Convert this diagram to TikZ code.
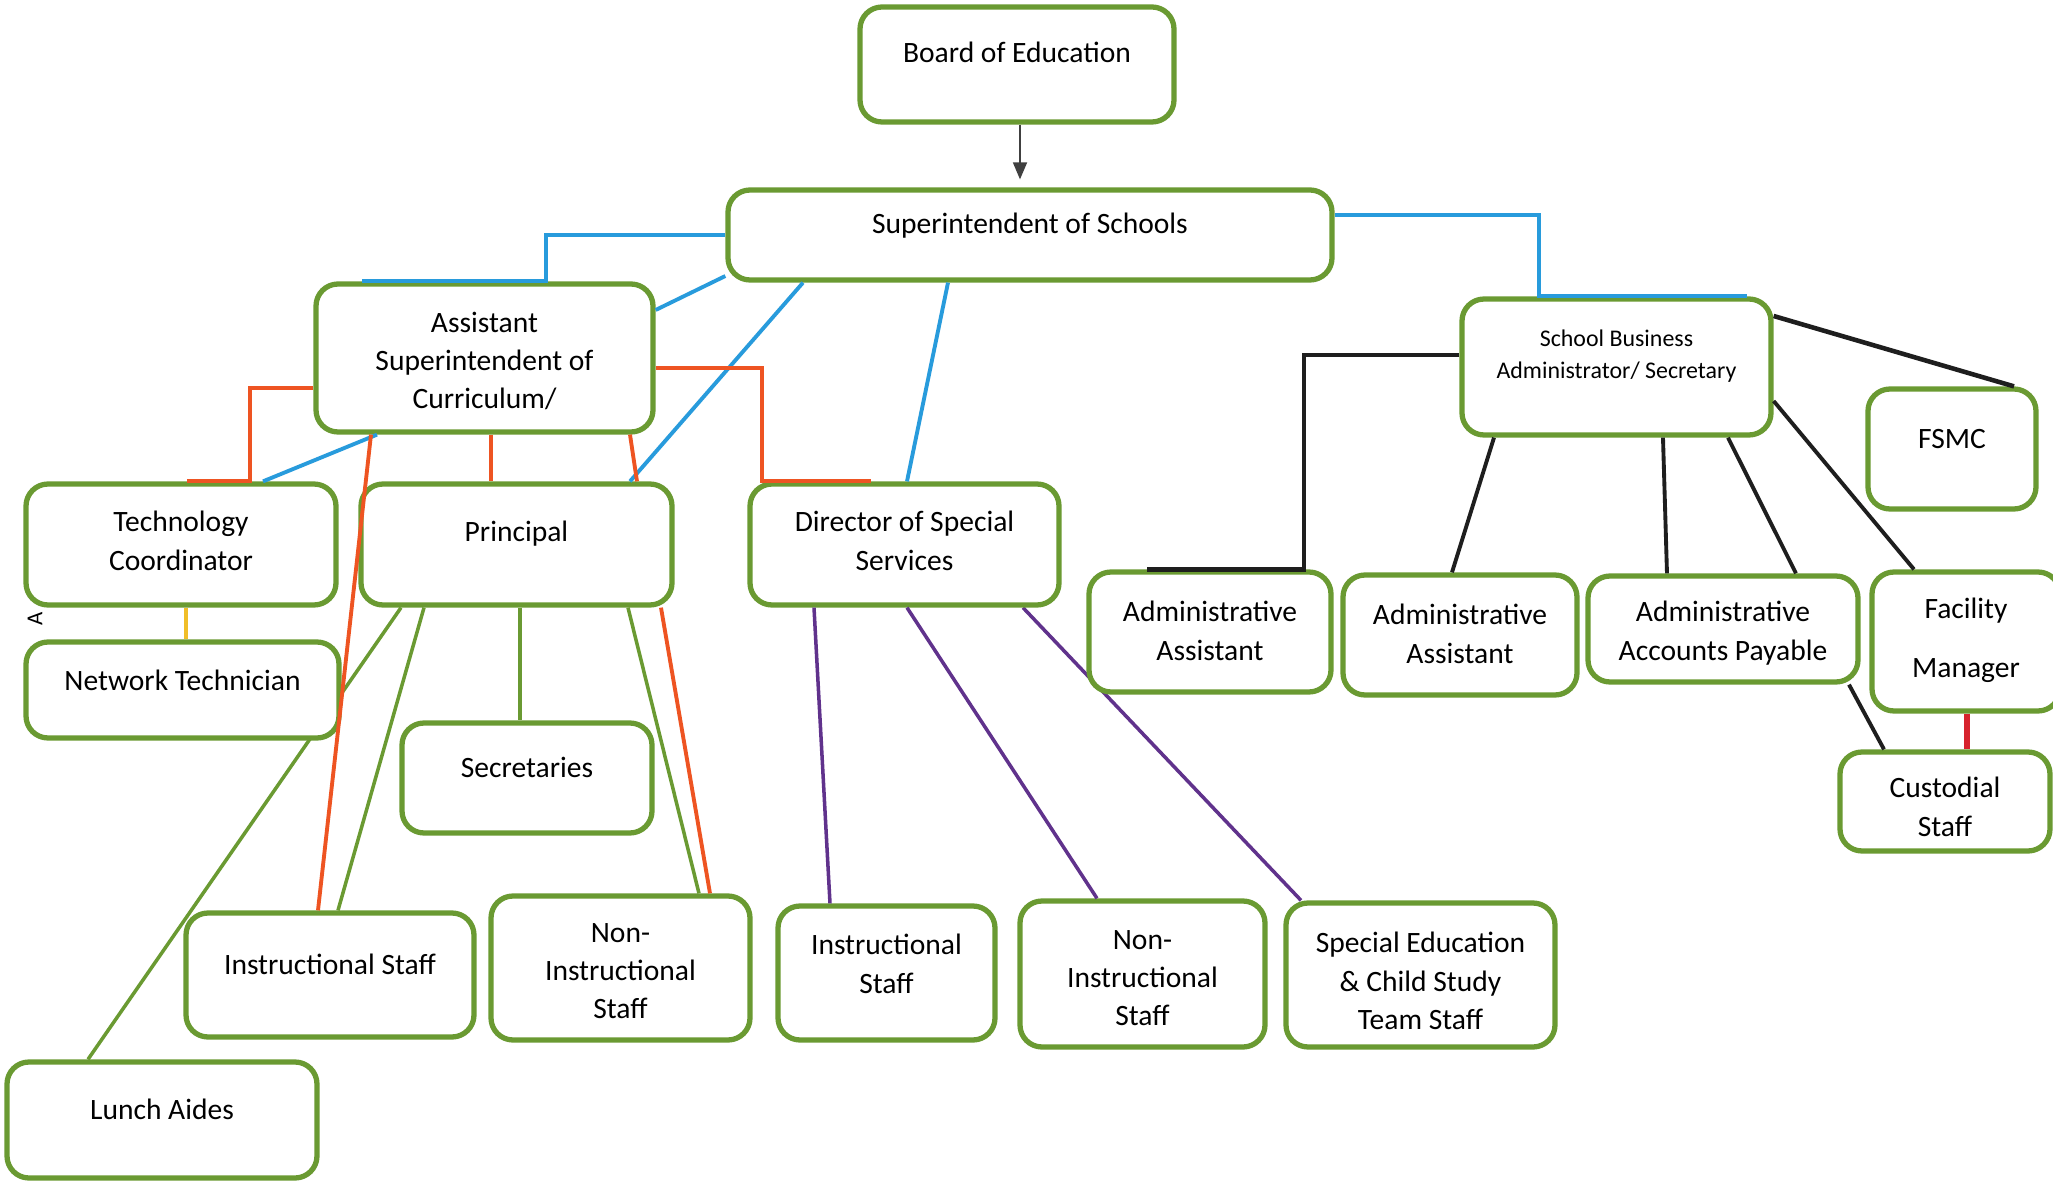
\documentclass[tikz,border=0pt]{standalone}
\usepackage{fontspec}
\setmainfont{Carlito}
\usetikzlibrary{arrows.meta,backgrounds,calc}
\definecolor{bgreen}{RGB}{106,154,50}
\definecolor{cblue}{RGB}{40,155,220}
\definecolor{cred}{RGB}{238,84,34}
\definecolor{cpurple}{RGB}{96,50,140}
\definecolor{cyellow}{RGB}{240,190,40}
\definecolor{cdark}{RGB}{30,30,30}
\definecolor{cfred}{RGB}{215,35,45}
\begin{document}
\begin{tikzpicture}[x=0.01cm,y=-0.01cm,
  box/.style={draw=bgreen,line width=1.5pt,rounded corners=0.22cm,fill=white,inner sep=0pt},
  txt/.style={font=\fontsize{8.4}{10.9}\selectfont,align=center,inner sep=0pt},
  smalltxt/.style={font=\fontsize{6.8}{9.1}\selectfont,align=center,inner sep=0pt},
  conn/.style={line width=1.1pt},
  blueline/.style={conn,draw=cblue},
  redline/.style={conn,draw=cred},
  greenline/.style={line width=1pt,draw=bgreen},
  purpleline/.style={line width=1pt,draw=cpurple},
  blackline/.style={conn,draw=cdark},
  yellowline/.style={conn,draw=cyellow}]
\useasboundingbox (0,0) rectangle (2053,1182);
\newcommand\orgbox[5]{\node[box,minimum width=#4*0.01cm,minimum height=#5*0.01cm] (#1) at (#2,#3) {};}
% boxes
\orgbox{board}{1017}{64.5}{314}{115}
\orgbox{sup}{1030}{235}{604}{90}
\orgbox{asst}{484.5}{358}{337}{148}
\orgbox{sba}{1616.5}{367}{309}{136}
\orgbox{fsmc}{1952}{449}{168}{120}
\orgbox{tech}{181}{544.5}{310}{121}
\orgbox{prin}{516.5}{544.5}{311}{121}
\orgbox{dir}{904.5}{544.5}{309}{121}
\orgbox{net}{182.5}{690}{313}{96}
\orgbox{secr}{527}{778}{250}{110}
\orgbox{instrL}{330}{975}{288}{124}
\orgbox{nonL}{620.5}{968}{259}{144}
\orgbox{lunch}{162}{1120}{310}{116}
\orgbox{instrM}{886.5}{973}{217}{134}
\orgbox{nonM}{1142.5}{974}{245}{146}
\orgbox{sped}{1420.5}{975}{269}{144}
\orgbox{aa1}{1210}{632}{242}{120}
\orgbox{aa2}{1460}{635}{234}{120}
\orgbox{aap}{1723}{629}{270}{106}
\orgbox{fac}{1966}{641.5}{188}{139}
\orgbox{cust}{1945}{801.5}{210}{99}
% texts
\node[txt] (boardT) at (1017,52) {Board of Education};
\node[txt] (supT) at (1030,226) {Superintendent of Schools};
\node[txt] (asstT) at (484.5,361) {Assistant\\Superintendent of\\Curriculum/};
\node[smalltxt] (sbaT) at (1616.5,356) {School Business\\Administrator/ Secretary};
\node[txt] (fsmcT) at (1952,439) {FSMC};
\node[txt] (techT) at (181,541) {Technology\\Coordinator};
\node[txt] (prinT) at (516.5,534) {Principal};
\node[txt] (dirT) at (904.5,541) {Director of Special\\Services};
\node[txt] (netT) at (182.5,680) {Network Technician};
\node[txt] (secrT) at (527,767) {Secretaries};
\node[txt] (instrLT) at (330,964) {Instructional Staff};
\node[txt] (nonLT) at (620.5,971) {Non-\\Instructional\\Staff};
\node[txt] (lunchT) at (162,1109) {Lunch Aides};
\node[txt] (instrMT) at (886.5,964) {Instructional\\Staff};
\node[txt] (nonMT) at (1142.5,978) {Non-\\Instructional\\Staff};
\node[txt] (spedT) at (1420.5,981) {Special Education\\\& Child Study\\Team Staff};
\node[txt] (aa1T) at (1210,631) {Administrative\\Assistant};
\node[txt] (aa2T) at (1460,634) {Administrative\\Assistant};
\node[txt] (aapT) at (1723,633) {Administrative\\Accounts Payable};
\node[txt] (facT) at (1966,640) {Facility\\[5.9pt]Manager};
\node[txt] (custT) at (1945,807) {Custodial\\Staff};
\node[inner sep=0pt,font=\fontsize{6.5}{7}\selectfont] (mark) at (35,619) {\rotatebox{90}{A}};
% background connectors (pass behind boxes)
\begin{scope}[on background layer]
\fill[white] (0,0) rectangle (2053,1182);
\draw[greenline] (401,0 |- prin.south) -- (88,0 |- lunch.north);
\draw[purpleline] (1023,0 |- dir.south) -- (1301,0 |- sped.north);
\end{scope}
% arrow
\draw[line width=0.5pt,draw=black!75,-{Triangle[length=0.17cm,width=0.14cm]},shorten >=0.08cm]
  (1020,0 |- board.south) -- (1020,0 |- sup.north);
% blue
\draw[blueline] (sup.west) -| (546,0 |- asst.north) -- (362,0 |- asst.north);
\draw[blueline] (sup.west |- 0,276) -- (asst.east |- 0,310);
\draw[blueline] (803,0 |- sup.south) -- (630,0 |- prin.north);
\draw[blueline] (948,0 |- sup.south) -- (907,0 |- dir.north);
\draw[blueline] (sup.east |- 0,215) -| (1539,0 |- sba.north) -- (1747,0 |- sba.north);
\draw[blueline] (377,0 |- asst.south) -- (263,0 |- tech.north);
% red
\draw[redline] (asst.west |- 0,388) -| (250,0 |- tech.north) -- (187,0 |- tech.north);
\draw[redline] (371,0 |- asst.south) -- (318,0 |- instrL.north);
\draw[redline] (491,0 |- asst.south) -- (491,0 |- prin.north);
\draw[redline] (630,0 |- asst.south) -- (637,0 |- prin.north);
\draw[redline] (661,0 |- prin.south) -- (710,0 |- nonL.north);
\draw[redline] (asst.east |- 0,368) -| (762,0 |- dir.north) -- (871,0 |- dir.north);
% green
\draw[greenline] (424,0 |- prin.south) -- (338,0 |- instrL.north);
\draw[greenline] (520,0 |- prin.south) -- (520,0 |- secr.north);
\draw[greenline] (628,0 |- prin.south) -- (699,0 |- nonL.north);
% yellow
\draw[yellowline] (186,0 |- tech.south) -- (186,0 |- net.north);
% purple
\draw[purpleline] (814,0 |- dir.south) -- (830,0 |- instrM.north);
\draw[purpleline] (907,0 |- dir.south) -- (1097,0 |- nonM.north);
% black
\draw[blackline,line width=1.3pt] (sba.west |- 0,355) -| (1304,0 |- aa1.north) -- (1147,0 |- aa1.north);
\draw[blackline] (1494,0 |- sba.south) -- (1452,0 |- aa2.north);
\draw[blackline] (1663,0 |- sba.south) -- (1667,0 |- aap.north);
\draw[blackline] (1728,0 |- sba.south) -- (1796,0 |- aap.north);
\draw[blackline] (sba.east |- 0,401) -- (1914,0 |- fac.north);
\draw[blackline,line width=1.3pt] (sba.east |- 0,316) -- (2014,0 |- fsmc.north);
\draw[blackline] (1849,0 |- aap.south) -- (1884,0 |- cust.north);
\draw[line width=1.6pt,draw=cfred] (1967,0 |- fac.south) -- (1967,0 |- cust.north);
\end{tikzpicture}
\end{document}
